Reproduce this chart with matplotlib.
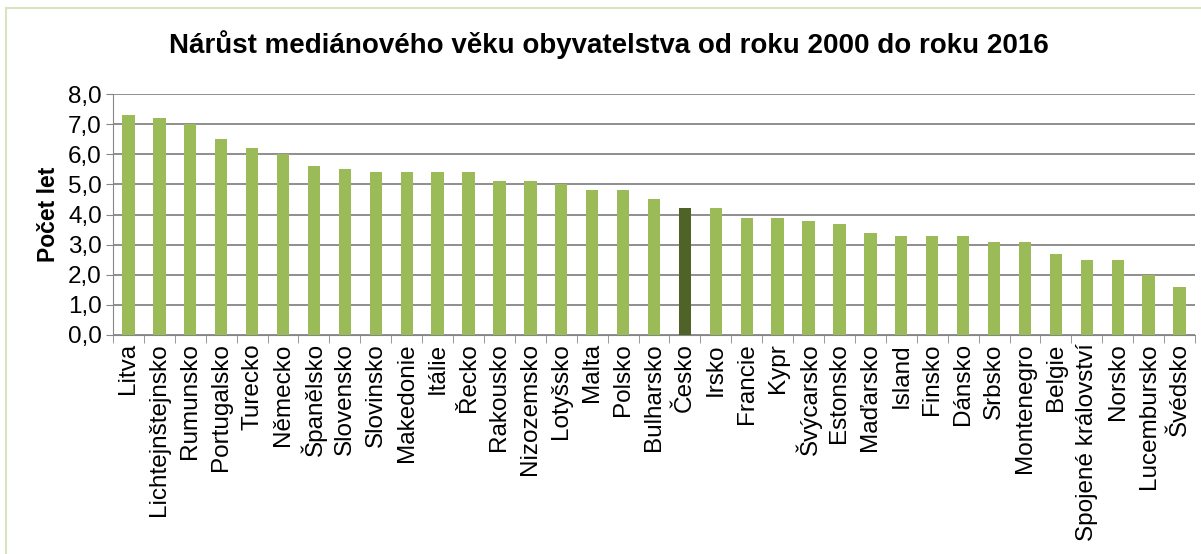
import numpy as np
import matplotlib
matplotlib.use("Agg")
from matplotlib import pyplot as plt
from matplotlib.patches import Rectangle

plt.rcParams['font.family'] = ['Liberation Sans', 'DejaVu Sans']

# Země a nárůst mediánového věku (roky)
countries = [
    "Litva", "Lichtejnštejnsko", "Rumunsko", "Portugalsko", "Turecko",
    "Německo", "Španělsko", "Slovensko", "Slovinsko", "Makedonie",
    "Itálie", "Řecko", "Rakousko", "Nizozemsko", "Lotyšsko", "Malta",
    "Polsko", "Bulharsko", "Česko", "Irsko", "Francie", "Kypr",
    "Švýcarsko", "Estonsko", "Maďarsko", "Island", "Finsko", "Dánsko",
    "Srbsko", "Montenegro", "Belgie", "Spojené království", "Norsko",
    "Lucembursko", "Švédsko",
]
values = [
    7.3, 7.2, 7.0, 6.5, 6.2, 6.0, 5.6, 5.5, 5.4, 5.4,
    5.4, 5.4, 5.1, 5.1, 5.0, 4.8, 4.8, 4.5, 4.2, 4.2,
    3.9, 3.9, 3.8, 3.7, 3.4, 3.3, 3.3, 3.3, 3.1, 3.1,
    2.7, 2.5, 2.5, 2.0, 1.6,
]
highlight = "Česko"
y_ticks = [0, 1, 2, 3, 4, 5, 6, 7, 8]

GREEN = "#9BBB59"
DARK = "#4F6228"
GRID = "#868686"

fig = plt.figure(figsize=(12.01, 5.54), dpi=100)
ax = fig.add_axes([113 / 1201, 1 - 335 / 554, (1195 - 113) / 1201, (335 - 94) / 554])

x = np.arange(len(countries))
colors = [DARK if c == highlight else GREEN for c in countries]
ax.bar(x, values, width=0.4, color=colors, zorder=3)

ax.set_xlim(-0.5, len(countries) - 0.5)
ax.set_ylim(0, 8)
ax.set_yticks(y_ticks)
ax.set_yticklabels([f"{v:.1f}".replace(".", ",") for v in y_ticks], fontsize=17.5)
ax.yaxis.grid(True, color=GRID, linewidth=1.3, zorder=0)
ax.tick_params(axis='y', length=5, color=GRID, pad=3)

# popisky uprostřed kategorií, čárky na hranicích
ax.set_xticks(x)
ax.set_xticklabels(countries, rotation=90, fontsize=17.5)
ax.tick_params(axis='x', which='major', length=0, pad=6)
ax.set_xticks(np.arange(-0.5, len(countries)), minor=True)
ax.tick_params(axis='x', which='minor', length=6, color=GRID)

for side in ['top', 'right']:
    ax.spines[side].set_visible(False)
ax.spines['left'].set_color(GRID)
ax.spines['bottom'].set_color(GRID)

ax.set_ylabel("Počet let", fontsize=16.5, fontweight='bold', labelpad=6)

fig.text(0.507, 1 - 45 / 554, "Nárůst mediánového věku obyvatelstva od roku 2000 do roku 2016",
         ha='center', va='center', fontsize=20, fontweight='bold')

# rámeček grafu (viditelná jen horní a levá strana)
fig.patches.append(Rectangle((6 / 1201, -0.1), 1.2, 1 - 8 / 554 + 0.1,
                             transform=fig.transFigure, fill=False,
                             edgecolor="#D7E4BD", linewidth=1.5))

fig.savefig("out.png", dpi=100)
